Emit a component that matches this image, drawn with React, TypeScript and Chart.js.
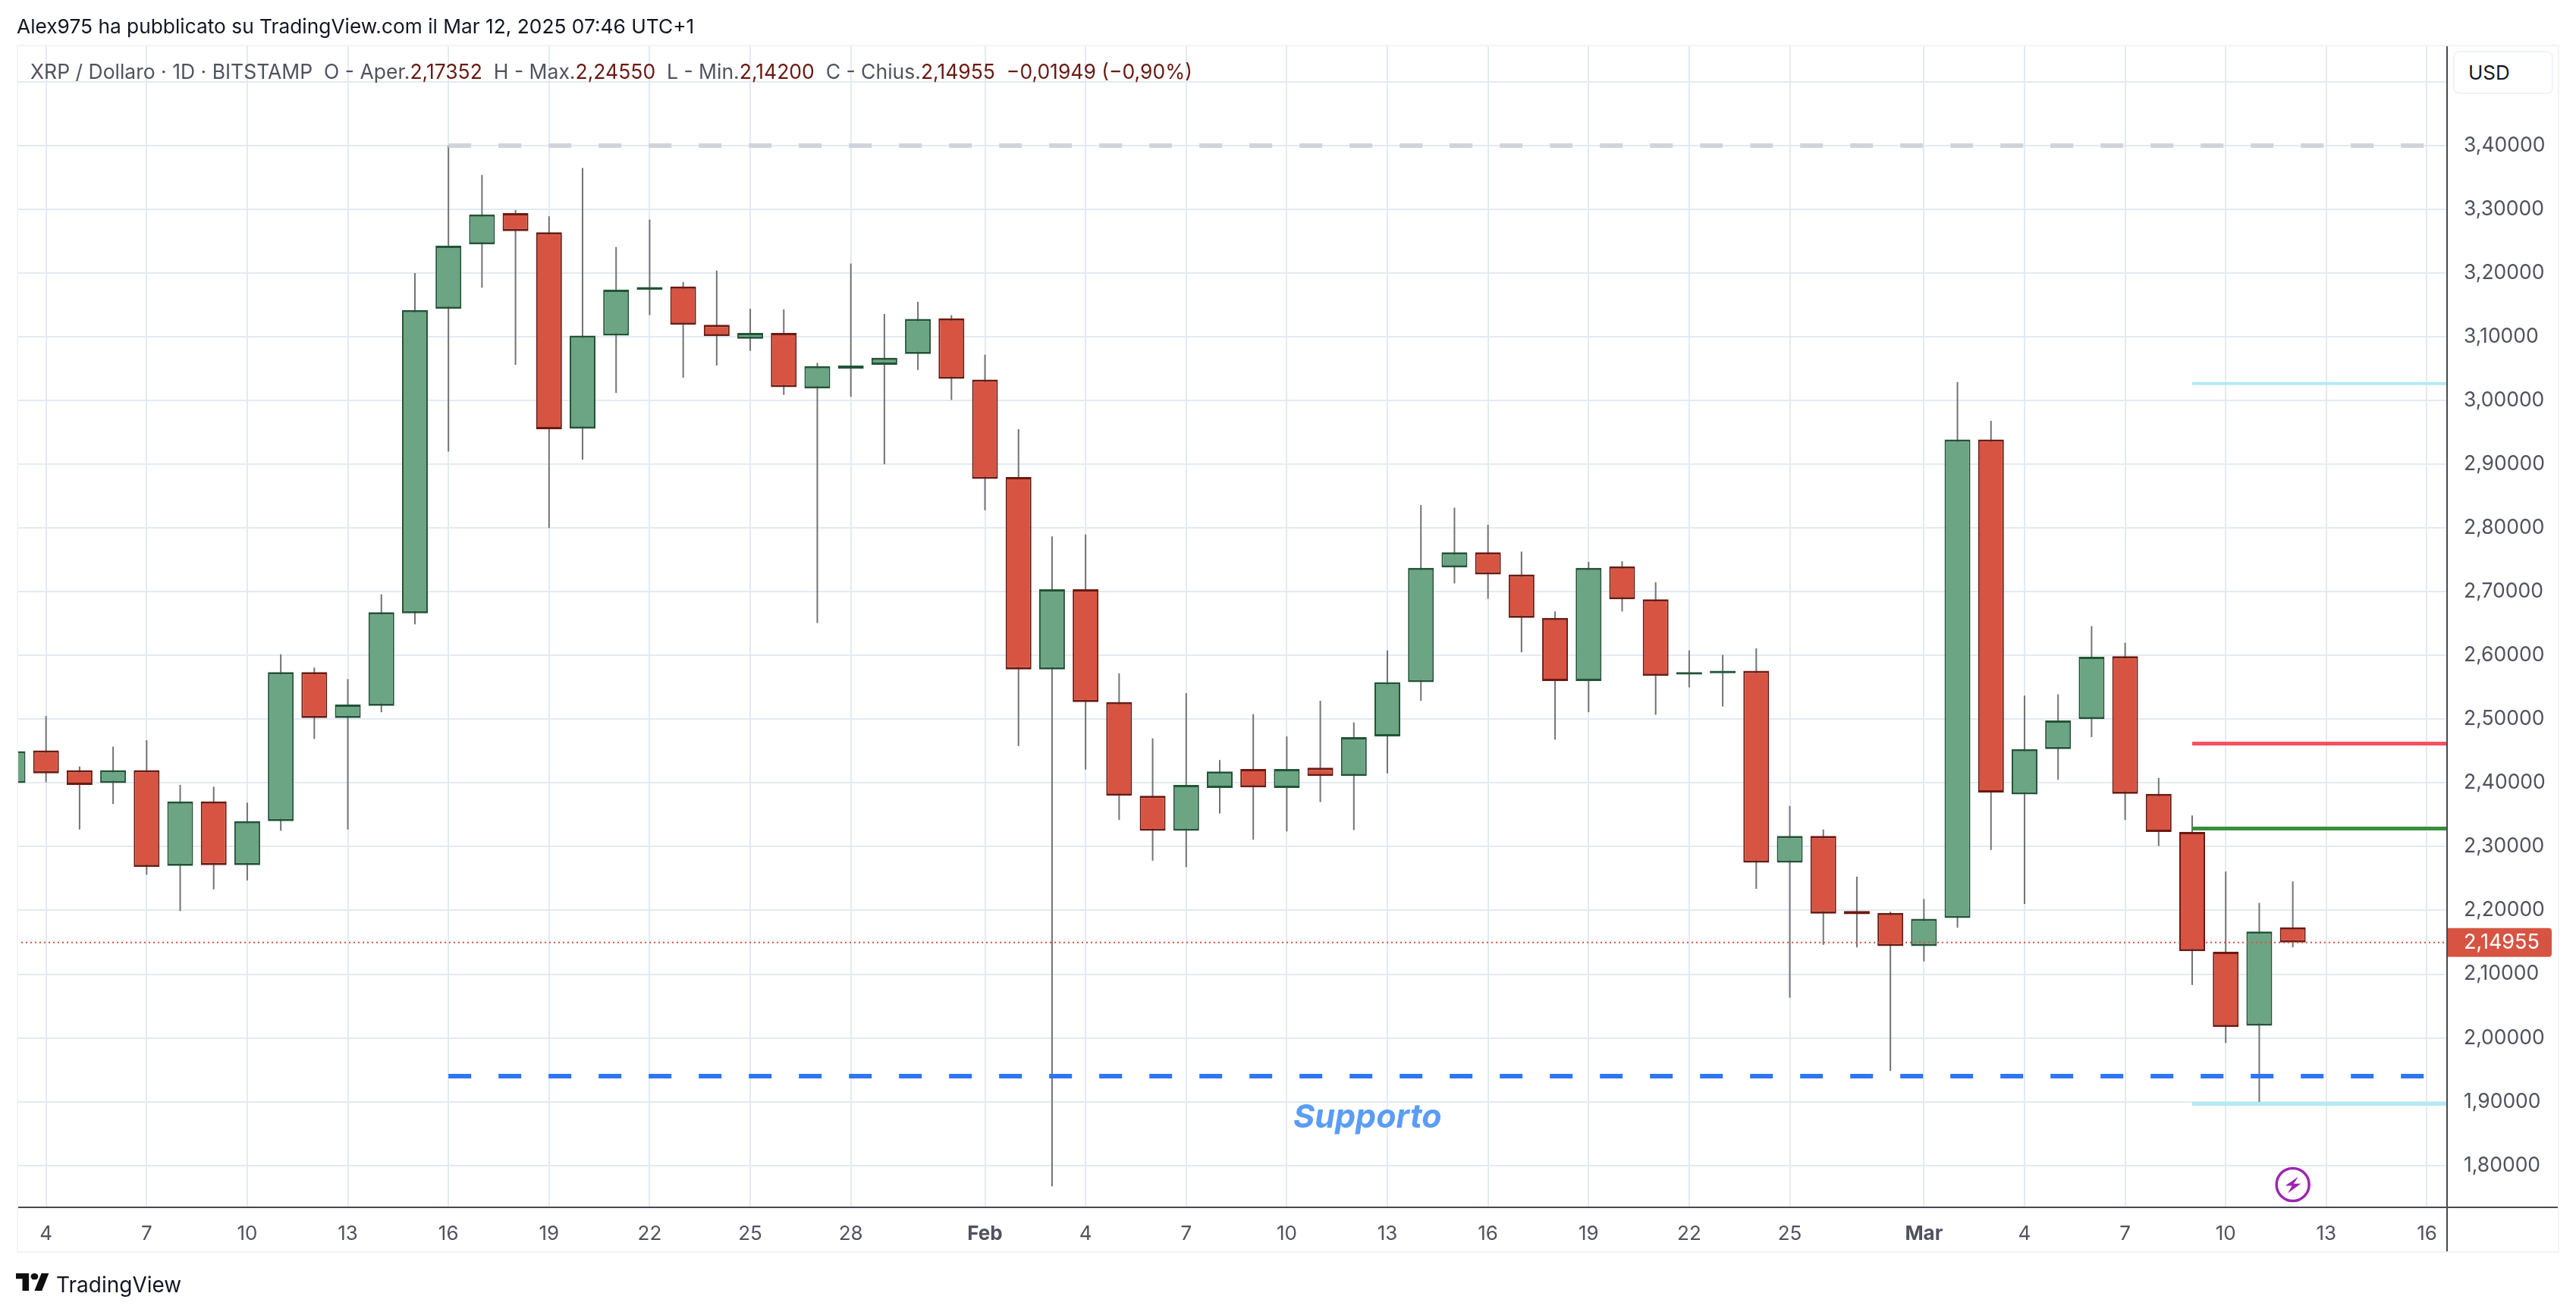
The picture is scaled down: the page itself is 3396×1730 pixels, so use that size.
import React, { useEffect, useRef } from 'react';
import Chart from 'chart.js/auto';

// giorni contati dal 4 gennaio (0), la prima candela e' tagliata dal bordo
const days = [-1, 0, 1, 2, 3, 4, 5, 6, 7, 8, 9, 10, 11, 12, 13, 14, 15, 16, 17, 18, 19, 20, 21, 22, 23, 24, 25, 26, 27, 28, 29, 30, 31, 32, 33, 34, 35, 36, 37, 38, 39, 40, 41, 42, 43, 44, 45, 46, 47, 48, 49, 50, 51, 52, 53, 54, 55, 56, 57, 58, 59, 60, 61, 62, 63, 64, 65, 66, 67];
const opens = [2.40, 2.451, 2.42, 2.40, 2.42, 2.270, 2.371, 2.271, 2.340, 2.574, 2.502, 2.521, 2.666, 3.144, 3.245, 3.294, 3.264, 2.956, 3.102, 3.174, 3.179, 3.119, 3.097, 3.106, 3.019, 3.050, 3.056, 3.073, 3.129, 3.033, 2.880, 2.578, 2.704, 2.527, 2.380, 2.325, 2.392, 2.422, 2.392, 2.424, 2.411, 2.473, 2.558, 2.738, 2.762, 2.727, 2.659, 2.560, 2.740, 2.688, 2.570, 2.572, 2.576, 2.275, 2.317, 2.199, 2.196, 2.144, 2.188, 2.939, 2.382, 2.453, 2.500, 2.599, 2.383, 2.323, 2.135, 2.019, 2.17352];
const closes = [2.45, 2.415, 2.397, 2.42, 2.268, 2.371, 2.271, 2.340, 2.574, 2.502, 2.523, 2.668, 3.142, 3.243, 3.292, 3.266, 2.955, 3.102, 3.174, 3.178, 3.119, 3.101, 3.106, 3.021, 3.054, 3.055, 3.067, 3.128, 3.034, 2.877, 2.578, 2.704, 2.527, 2.380, 2.325, 2.397, 2.418, 2.393, 2.422, 2.411, 2.472, 2.558, 2.7375, 2.762, 2.727, 2.659, 2.560, 2.7375, 2.688, 2.568, 2.574, 2.576, 2.275, 2.317, 2.195, 2.194, 2.144, 2.187, 2.939, 2.385, 2.453, 2.498, 2.598, 2.383, 2.323, 2.136, 2.017, 2.167, 2.14955];
const highs = [2.46, 2.505, 2.426, 2.457, 2.467, 2.397, 2.394, 2.369, 2.602, 2.581, 2.563, 2.696, 3.200, 3.40, 3.354, 3.299, 3.289, 3.365, 3.241, 3.284, 3.186, 3.204, 3.144, 3.143, 3.059, 3.215, 3.136, 3.155, 3.134, 3.072, 2.955, 2.787, 2.790, 2.572, 2.470, 2.541, 2.436, 2.508, 2.473, 2.529, 2.495, 2.608, 2.836, 2.832, 2.805, 2.763, 2.669, 2.747, 2.748, 2.715, 2.608, 2.601, 2.611, 2.364, 2.327, 2.253, 2.198, 2.218, 3.029, 2.968, 2.537, 2.539, 2.646, 2.620, 2.408, 2.349, 2.261, 2.212, 2.2455];
const lows = [2.39, 2.401, 2.327, 2.367, 2.256, 2.199, 2.233, 2.247, 2.325, 2.469, 2.327, 2.511, 2.649, 2.920, 3.177, 3.056, 2.80, 2.907, 3.012, 3.134, 3.036, 3.055, 3.078, 3.009, 2.651, 3.006, 2.90, 3.048, 3.001, 2.828, 2.458, 1.767, 2.421, 2.342, 2.278, 2.268, 2.352, 2.311, 2.324, 2.370, 2.326, 2.415, 2.529, 2.713, 2.689, 2.605, 2.468, 2.511, 2.669, 2.507, 2.550, 2.520, 2.234, 2.063, 2.146, 2.142, 1.948, 2.120, 2.173, 2.295, 2.210, 2.405, 2.472, 2.342, 2.301, 2.083, 1.992, 1.897, 2.142];

const dayTicks = [0, 3, 6, 9, 12, 15, 18, 21, 24, 28, 31, 34, 37, 40, 43, 46, 49, 52, 56, 59, 62, 65, 68, 71];
const dayLabels = ['4', '7', '10', '13', '16', '19', '22', '25', '28', 'Feb', '4', '7', '10', '13', '16', '19', '22', '25', 'Mar', '4', '7', '10', '13', '16'];
const priceTicks = [1.8, 1.9, 2.0, 2.1, 2.2, 2.3, 2.4, 2.5, 2.6, 2.7, 2.8, 2.9, 3.0, 3.1, 3.2, 3.3, 3.4, 3.5];
const priceLabels = ['1,80000', '1,90000', '2,00000', '2,10000', '2,20000', '2,30000', '2,40000', '2,50000', '2,60000', '2,70000', '2,80000', '2,90000', '3,00000', '3,10000', '3,20000', '3,30000', '3,40000', ''];

const lastPrice = 2.14955;
const lastPriceLabel = '2,14955';
const resistance = 3.40;
const support = 1.94;
const targetTop = 3.0267;
const stopLevel = 2.4619;
const entryLevel = 2.3285;
const targetBottom = 1.8966;
const longLineDays = [12, 71];
const shortLineDays = [64, 71.6];
const xRange = [-0.875, 71.6];
const yRange = [1.7341, 3.5583];

const legendParts = [
  ['XRP / Dollaro · 1D · BITSTAMP  O - Aper.', '2,17352'],
  ['  H - Max.', '2,24550'],
  ['  L - Min.', '2,14200'],
  ['  C - Chius.', '2,14955'],
  ['', '  −0,01949 (−0,90%)'],
];

const UP = '#6BA583';
const UP_BORDER = '#225437';
const DOWN = '#D75442';
const DOWN_BORDER = '#6B1A12';
const GRID = '#E2EBF3';
const AXIS = '#454853';
const LABEL = '#50535E';
const FONT = 'Inter, "Liberation Sans", sans-serif';

const hline = (label: string, range: number[], value: number, color: string, width: number, dash: number[] = []) => ({
  type: 'line' as const,
  label,
  data: range.map((x) => ({ x, y: value })),
  borderColor: color,
  borderWidth: width,
  borderDash: dash,
  pointRadius: 0,
  order: 0,
});

// cornice, cartellino del prezzo, scritta e icona
const overlay = {
  id: 'overlay',
  afterDraw(chart: any) {
    const { ctx, chartArea, scales } = chart;
    const y = scales.y.getPixelForValue(lastPrice);
    ctx.save();
    ctx.strokeStyle = AXIS;
    ctx.lineWidth = 2;
    ctx.beginPath();
    ctx.moveTo(chartArea.right, chartArea.top);
    ctx.lineTo(chartArea.right, 1652);
    ctx.moveTo(chartArea.left, chartArea.bottom);
    ctx.lineTo(3374, chartArea.bottom);
    ctx.stroke();

    ctx.fillStyle = DOWN;
    ctx.beginPath();
    ctx.roundRect(chartArea.right + 1, y - 19, 137, 38, [0, 4, 4, 0]);
    ctx.fill();
    ctx.fillStyle = '#FFFFFF';
    ctx.font = `27px ${FONT}`;
    ctx.textBaseline = 'middle';
    ctx.fillText(lastPriceLabel, chartArea.right + 22, y);

    ctx.fillStyle = '#5B9CF6';
    ctx.font = `italic bold 43px ${FONT}`;
    ctx.fillText('Supporto', 1705, scales.y.getPixelForValue(1.874));

    const cx = scales.x.getPixelForValue(67);
    const cy = 1562;
    ctx.strokeStyle = '#9C27B0';
    ctx.lineWidth = 3.5;
    ctx.beginPath();
    ctx.arc(cx, cy, 21.5, 0, Math.PI * 2);
    ctx.stroke();
    ctx.fillStyle = '#9C27B0';
    ctx.beginPath();
    ctx.moveTo(cx + 7.3, cy - 10.4);
    ctx.lineTo(cx - 10, cy + 1.6);
    ctx.lineTo(cx - 1, cy + 1.6);
    ctx.lineTo(cx - 6.7, cy + 11.6);
    ctx.lineTo(cx + 10.7, cy - 1.2);
    ctx.lineTo(cx + 1.3, cy - 1.2);
    ctx.closePath();
    ctx.fill();
    ctx.restore();
  },
};

const App: React.FC = () => {
  const chartRef = useRef<HTMLCanvasElement>(null);

  useEffect(() => {
    if (!chartRef.current) return;
    const isUp = days.map((_, i) => closes[i] >= opens[i]);
    const chart = new Chart(chartRef.current, {
      type: 'bar',
      data: {
        datasets: [
          hline('Resistenza', longLineDays, resistance, '#D1D4DC', 6, [30, 36]),
          hline('Supporto', longLineDays, support, '#2E76F2', 6, [30, 36]),
          hline('Target alto', shortLineDays, targetTop, '#B2EBF2', 4),
          hline('Stop', shortLineDays, stopLevel, '#F7525F', 5),
          hline('Ingresso', shortLineDays, entryLevel, '#388E3C', 5),
          hline('Target basso', shortLineDays, targetBottom, '#B2EBF2', 5),
          hline('Ultimo', xRange, lastPrice, DOWN, 2, [2, 4]),
          {
            label: 'Corpo',
            data: days.map((x, i) => ({ x, y: [opens[i], closes[i]] })),
            backgroundColor: isUp.map((u) => (u ? UP : DOWN)),
            borderColor: isUp.map((u) => (u ? UP_BORDER : DOWN_BORDER)),
            borderWidth: { top: 3, bottom: 3, left: 2, right: 2 },
            borderSkipped: false,
            inflateAmount: 0,
            barThickness: 34,
            grouped: false,
            order: 1,
          },
          {
            label: 'Ombra',
            data: days.map((x, i) => ({ x, y: [lows[i], highs[i]] })),
            backgroundColor: '#737375',
            borderWidth: 0,
            inflateAmount: 0,
            barThickness: 2,
            grouped: false,
            order: 2,
          },
        ] as any,
      },
      options: {
        responsive: false,
        animation: false,
        devicePixelRatio: 1,
        layout: { padding: { left: 22, right: 22, top: 59, bottom: 78 } },
        plugins: { legend: { display: false }, tooltip: { enabled: false } },
        scales: {
          x: {
            type: 'linear',
            min: xRange[0],
            max: xRange[1],
            offset: false,
            border: { display: false },
            grid: { color: GRID, lineWidth: 2, drawTicks: false, offset: false },
            afterBuildTicks: (scale: any) => {
              scale.ticks = dayTicks.map((value) => ({ value }));
            },
            afterFit: (scale: any) => {
              scale.height = 60;
            },
            ticks: {
              autoSkip: false,
              maxRotation: 0,
              padding: 20,
              color: LABEL,
              font: (ctx: any) => ({
                family: FONT,
                size: 26,
                weight: ctx.index === 9 || ctx.index === 18 ? 'bold' : 'normal',
              }),
              callback: (_v: any, i: number) => dayLabels[i],
            },
          },
          y: {
            type: 'linear',
            position: 'right',
            min: yRange[0],
            max: yRange[1],
            border: { display: false },
            grid: { color: GRID, lineWidth: 2, drawTicks: false },
            afterBuildTicks: (scale: any) => {
              scale.ticks = priceTicks.map((value) => ({ value }));
            },
            afterFit: (scale: any) => {
              scale.width = 148;
            },
            ticks: {
              padding: 22,
              color: LABEL,
              font: { family: FONT, size: 26.5 },
              callback: (_v: any, i: number) => priceLabels[i],
            },
          },
        },
      },
      plugins: [overlay],
    });
    return () => chart.destroy();
  }, []);

  return (
    <div style={{ position: 'fixed', left: 0, top: 0, width: 3396, height: 1730, background: '#FFFFFF', fontFamily: FONT, overflow: 'hidden' }}>
      <canvas ref={chartRef} width={3396} height={1730} style={{ display: 'block' }} />
      <div style={{ position: 'absolute', left: 22, top: 59, width: 3352, height: 1593, boxSizing: 'border-box', border: '2px solid #F3F4F6', pointerEvents: 'none' }} />
      <div style={{ position: 'absolute', left: 22, top: 17, fontSize: 26.3, lineHeight: '36px', color: '#131722', whiteSpace: 'pre' }}>
        Alex975 ha pubblicato su TradingView.com il Mar 12, 2025 07:46 UTC+1
      </div>
      <div style={{ position: 'absolute', left: 40, top: 76, fontSize: 26.5, lineHeight: '36px', color: LABEL, whiteSpace: 'pre' }}>
        {legendParts.map(([name, value]) => (
          <React.Fragment key={name + value}>
            {name}
            <span style={{ color: '#6B1A12' }}>{value}</span>
          </React.Fragment>
        ))}
      </div>
      <div style={{ position: 'absolute', left: 3234, top: 67, width: 132, height: 57, boxSizing: 'border-box', border: '2px solid #F0F3FA', borderRadius: 8, background: '#FFFFFF', color: '#131722', fontSize: 26, lineHeight: '53px', paddingLeft: 18 }}>
        USD
      </div>
      <svg style={{ position: 'absolute', left: 21, top: 1679 }} width={44} height={23} viewBox="0 0 36 22" preserveAspectRatio="none">
        <path d="M14 22H7V7H0V0h14v22zM28 22h-8L27.5 0h8L28 22z" fill="#0F0F0F" />
        <circle cx="20" cy="4" r="4" fill="#0F0F0F" />
      </svg>
      <div style={{ position: 'absolute', left: 74, top: 1674, fontSize: 28, lineHeight: '40px', color: '#131722', whiteSpace: 'pre' }}>
        TradingView
      </div>
    </div>
  );
};

export default App;
